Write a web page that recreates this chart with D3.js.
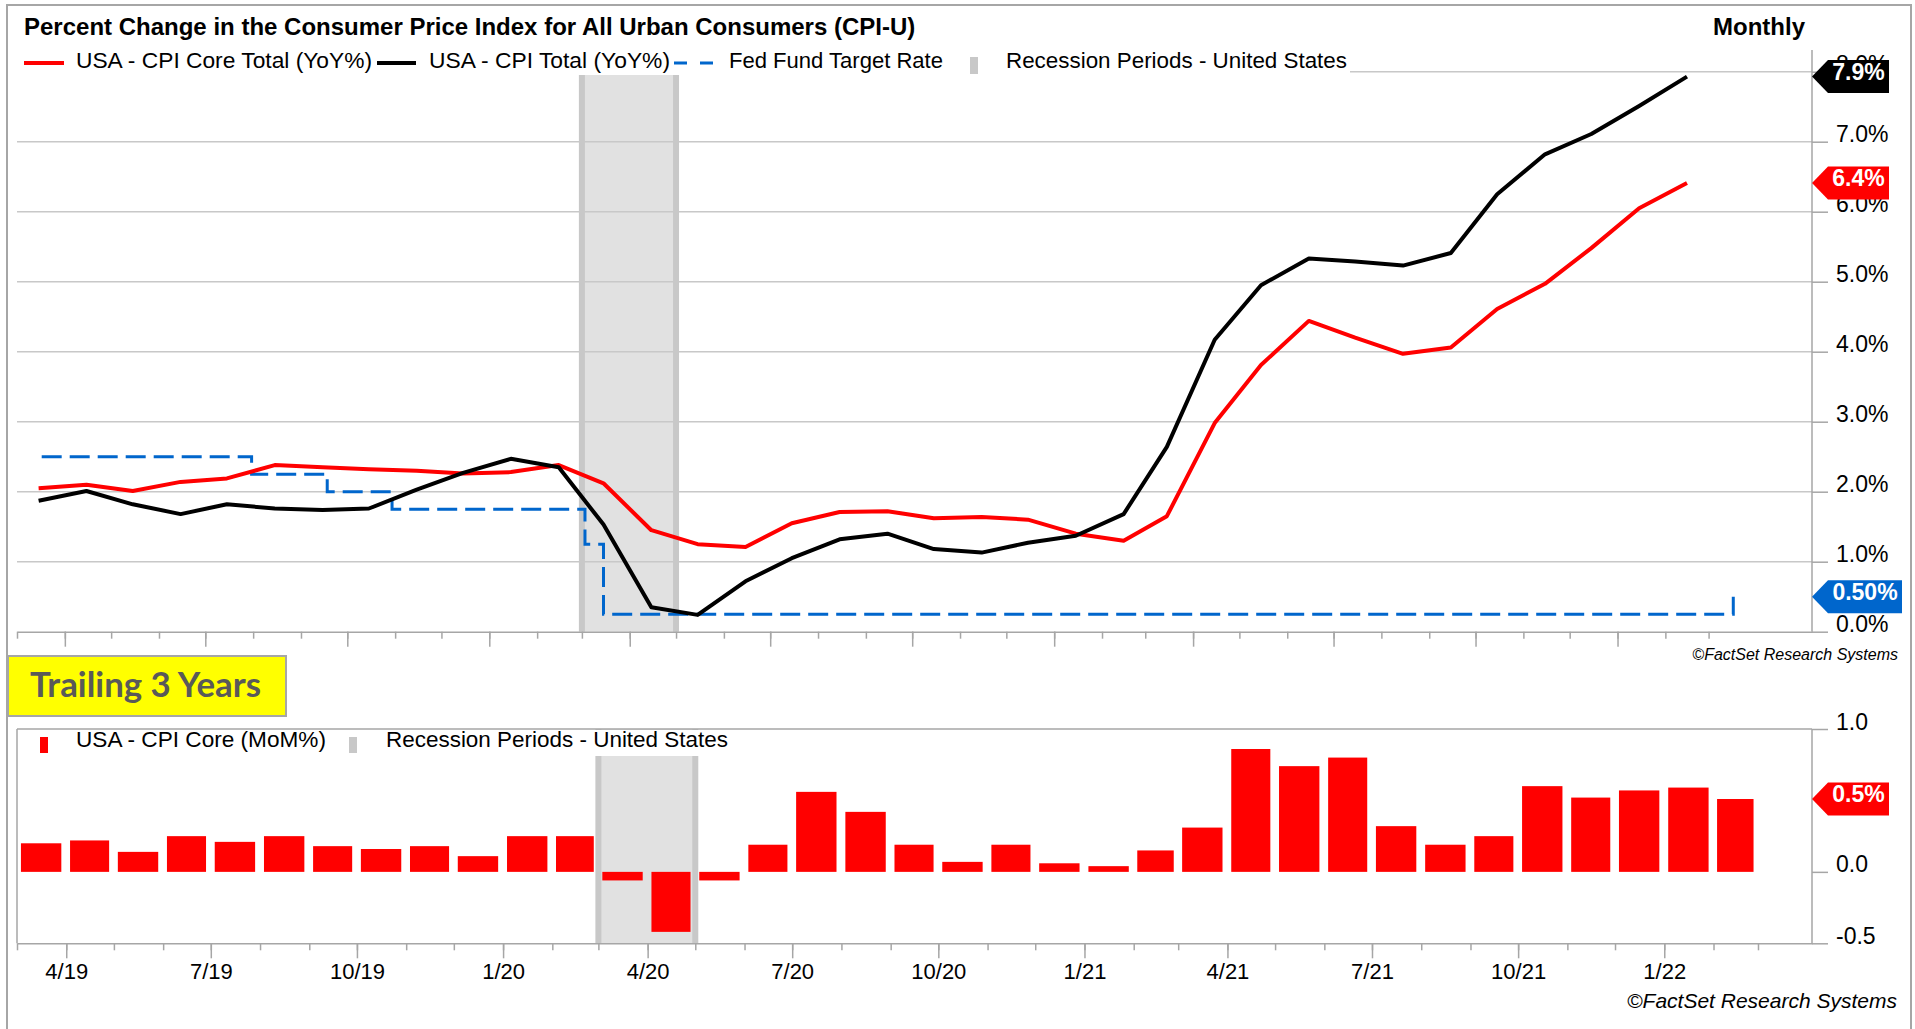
<!DOCTYPE html>
<html>
<head>
<meta charset="utf-8">
<script src="https://cdn.jsdelivr.net/npm/d3@7"></script>
<style>
  body { margin: 0; background: #fff; }
  svg { display: block; }
</style>
</head>
<body>
<div id="wrapper"></div>
<script>
// 1. Data

const months = [
  "2019-03","2019-04","2019-05","2019-06","2019-07","2019-08","2019-09","2019-10","2019-11","2019-12",
  "2020-01","2020-02","2020-03","2020-04","2020-05","2020-06","2020-07","2020-08","2020-09","2020-10","2020-11","2020-12",
  "2021-01","2021-02","2021-03","2021-04","2021-05","2021-06","2021-07","2021-08","2021-09","2021-10","2021-11","2021-12",
  "2022-01","2022-02"
];
const cpiCoreYoY = [
  2.05, 2.10, 2.01, 2.14, 2.19, 2.38, 2.35, 2.32, 2.30, 2.26,
  2.28, 2.38, 2.12, 1.45, 1.25, 1.21, 1.55, 1.71, 1.72, 1.62, 1.64, 1.60,
  1.40, 1.30, 1.65, 2.98, 3.81, 4.44, 4.20, 3.97, 4.06, 4.61, 4.97, 5.48,
  6.05, 6.41
];
const cpiTotalYoY = [
  1.87, 2.01, 1.82, 1.68, 1.82, 1.76, 1.74, 1.76, 2.03, 2.27,
  2.47, 2.35, 1.53, 0.35, 0.24, 0.72, 1.05, 1.32, 1.40, 1.18, 1.13, 1.27,
  1.37, 1.68, 2.64, 4.17, 4.95, 5.33, 5.29, 5.23, 5.41, 6.25, 6.82, 7.11,
  7.51, 7.93
];
const coreMoM = [
  0.20, 0.22, 0.14, 0.25, 0.21, 0.25, 0.18, 0.16, 0.18, 0.11,
  0.25, 0.25, -0.06, -0.42, -0.06, 0.19, 0.56, 0.42, 0.19, 0.07, 0.19, 0.06,
  0.04, 0.15, 0.31, 0.86, 0.74, 0.80, 0.32, 0.19, 0.25, 0.60, 0.52, 0.57,
  0.59, 0.51
];
const fedDates = ["2019-03-17","2019-07-31","2019-09-18","2019-10-30","2020-03-03","2020-03-15","2022-03-17"];
const fedRates = [2.50, 2.25, 2.00, 1.75, 1.25, 0.25, 0.50];
const recession = ["2020-03-01", "2020-05-01"];

const yTicksTop = [0, 1, 2, 3, 4, 5, 6, 7, 8];
const yTicksBottom = [-0.5, 0, 1.0];
const quarterDates = ["2019-04-01","2019-07-01","2019-10-01","2020-01-01","2020-04-01","2020-07-01",
  "2020-10-01","2021-01-01","2021-04-01","2021-07-01","2021-10-01","2022-01-01"];
const quarterLabels = ["4/19","7/19","10/19","1/20","4/20","7/20","10/20","1/21","4/21","7/21","10/21","1/22"];

const parseDay = d3.timeParse("%Y-%m-%d");
const monthStart = months.map(m => parseDay(m + "-01"));
const monthMid = monthStart.map(d => d3.timeDay.offset(d, 14));
const coreData = monthMid.map((d, i) => ({ date: d, value: cpiCoreYoY[i] }));
const totalData = monthMid.map((d, i) => ({ date: d, value: cpiTotalYoY[i] }));
const fedData = fedDates.map((d, i) => ({ date: parseDay(d), value: fedRates[i] }));
const momData = monthStart.map((d, i) => ({ start: d, end: d3.timeMonth.offset(d, 1), value: coreMoM[i] }));
const monthTicks = d3.timeMonth.range(parseDay("2019-03-01"), parseDay("2022-03-02"));
const quarterTicks = quarterDates.map(parseDay);

const gridColor = "#c8c8c8";
const axisColor = "#a6a6a6";
const recFill = "#e1e1e1";
const recEdge = "#c8c8c8";

// 2. Dimensions

const dims = {
  width: 1915,
  height: 1029,
  plotLeft: 17,
  axisX: 1812,
  top: { top: 50, y8: 71.7, y0: 631.7 },
  bottom: { top: 729, bottom: 943.3 },
};

// 3. Canvas

const svg = d3.select("#wrapper")
  .append("svg")
    .attr("width", dims.width)
    .attr("height", dims.height)
    .style("font-family", "'Liberation Sans', Arial, sans-serif");

svg.append("rect")
    .attr("x", 7).attr("y", 5)
    .attr("width", 1904).attr("height", 1040)
    .attr("fill", "none")
    .attr("stroke", axisColor)
    .attr("stroke-width", 2);

// 4. Scales

const xTop = d3.scaleTime()
  .domain([parseDay("2019-03-01"), parseDay("2022-05-07")])
  .range([dims.plotLeft, dims.axisX]);
const yTop = d3.scaleLinear()
  .domain([0, 8])
  .range([dims.top.y0, dims.top.y8]);

const xBot = d3.scaleTime()
  .domain([parseDay("2019-03-01"), parseDay("2022-04-04")])
  .range([dims.plotLeft, dims.axisX]);
const yBot = d3.scaleLinear()
  .domain([-0.5, 1.0])
  .range([dims.bottom.bottom, dims.bottom.top]);

// helpers
function drawRecession(g, x, y0, y1) {
  const r0 = x(parseDay(recession[0])), r1 = x(parseDay(recession[1]));
  g.append("rect")
      .attr("x", r0).attr("y", y0)
      .attr("width", r1 - r0).attr("height", y1 - y0)
      .attr("fill", recFill);
  g.selectAll(null)
    .data([r0, r1])
    .join("rect")
      .attr("x", d => d - 3).attr("y", y0)
      .attr("width", 6).attr("height", y1 - y0)
      .attr("fill", recEdge);
}

function styleAxis(g) {
  g.select(".domain").attr("stroke", axisColor).attr("stroke-width", 1.5);
  g.selectAll(".tick line").attr("stroke", axisColor).attr("stroke-width", 1.5);
}

function drawMonthAxis(g, x, y, withLabels) {
  const minor = g.append("g")
      .attr("transform", `translate(0,${y})`)
      .call(d3.axisBottom(x).tickValues(monthTicks).tickSize(7).tickSizeOuter(0).tickFormat(""));
  styleAxis(minor);
  const major = g.append("g")
      .attr("transform", `translate(0,${y})`)
      .call(d3.axisBottom(x).tickValues(quarterTicks).tickSize(15).tickSizeOuter(0)
        .tickFormat((d, i) => withLabels ? quarterLabels[i] : ""));
  styleAxis(major);
  major.select(".domain").remove();
  major.selectAll(".tick text")
      .attr("y", 36).attr("dy", 0)
      .attr("fill", "#000")
      .style("font-family", "'Liberation Sans', Arial, sans-serif")
      .style("font-size", "22px");
}

function drawRightAxis(g, y, ticks, fmt, yStart, yEnd, fontSize) {
  g.append("line")
      .attr("x1", dims.axisX).attr("x2", dims.axisX)
      .attr("y1", yStart).attr("y2", yEnd)
      .attr("stroke", axisColor).attr("stroke-width", 1.5);
  const ax = g.append("g")
      .attr("transform", `translate(${dims.axisX},0)`)
      .call(d3.axisRight(y).tickValues(ticks).tickSize(16).tickFormat(fmt));
  ax.select(".domain").remove();
  ax.selectAll(".tick line").attr("stroke", axisColor).attr("stroke-width", 1.5);
  ax.selectAll(".tick text")
      .attr("x", 24).attr("dy", 0)
      .attr("fill", "#000")
      .style("font-family", "'Liberation Sans', Arial, sans-serif")
      .style("font-size", fontSize + "px");
}

function drawBadge(g, yPos, label, color, width) {
  const x0 = dims.axisX, h = 33;
  g.append("path")
      .attr("d", `M${x0},${yPos} L${x0 + 16},${yPos - h / 2} L${x0 + 16 + width},${yPos - h / 2} L${x0 + 16 + width},${yPos + h / 2} L${x0 + 16},${yPos + h / 2} Z`)
      .attr("fill", color);
  g.append("text")
      .attr("x", x0 + 16 + width / 2)
      .attr("y", yPos + 3)
      .attr("text-anchor", "middle")
      .attr("fill", "#fff")
      .style("font-weight", "bold")
      .style("font-size", "23px")
      .text(label);
}

function legendText(g, x, y, width, label) {
  g.append("text")
      .attr("x", x).attr("y", y)
      .attr("textLength", width)
      .attr("lengthAdjust", "spacingAndGlyphs")
      .text(label);
}

// 5. Top chart

const topG = svg.append("g");

drawRecession(topG, xTop, dims.top.top, dims.top.y0);

topG.append("g")
  .selectAll("line")
  .data(yTicksTop.filter(d => d > 0))
  .join("line")
    .attr("x1", dims.plotLeft).attr("x2", dims.axisX)
    .attr("y1", d => yTop(d)).attr("y2", d => yTop(d))
    .attr("stroke", gridColor)
    .attr("stroke-width", 1.5);

drawMonthAxis(topG, xTop, dims.top.y0, false);
drawRightAxis(topG, yTop, yTicksTop, d => d.toFixed(1) + "%", dims.top.top, dims.top.y0, 23);

// legend background and items
topG.append("rect")
    .attr("x", 16).attr("y", 40)
    .attr("width", 1334).attr("height", 35)
    .attr("fill", "#fff");

const legendTop = topG.append("g").style("font-size", "22px");
legendTop.append("line").attr("x1", 24).attr("x2", 64).attr("y1", 63).attr("y2", 63)
    .attr("stroke", "#ff0000").attr("stroke-width", 4);
legendText(legendTop, 76, 68, 296, "USA - CPI Core Total (YoY%)");
legendTop.append("line").attr("x1", 377).attr("x2", 416).attr("y1", 63).attr("y2", 63)
    .attr("stroke", "#000").attr("stroke-width", 4);
legendText(legendTop, 429, 68, 241, "USA - CPI Total (YoY%)");
legendTop.append("line").attr("x1", 674).attr("x2", 713).attr("y1", 63).attr("y2", 63)
    .attr("stroke", "#0066cc").attr("stroke-width", 3).attr("stroke-dasharray", "13,13");
legendText(legendTop, 729, 68, 214, "Fed Fund Target Rate");
legendTop.append("rect").attr("x", 970).attr("y", 57).attr("width", 8).attr("height", 17)
    .attr("fill", "#c8c8c8");
legendText(legendTop, 1006, 68, 341, "Recession Periods - United States");

// lines
const lineTop = d3.line()
  .x(d => xTop(d.date))
  .y(d => yTop(d.value));

topG.append("path")
    .datum(fedData)
    .attr("d", lineTop.curve(d3.curveStepAfter))
    .attr("fill", "none")
    .attr("stroke", "#0066cc")
    .attr("stroke-width", 3)
    .attr("stroke-dasharray", "20,8");

lineTop.curve(d3.curveLinear);

topG.append("path")
    .datum(coreData)
    .attr("d", lineTop)
    .attr("fill", "none")
    .attr("stroke", "#ff0000")
    .attr("stroke-width", 4)
    .attr("stroke-linejoin", "round");

topG.append("path")
    .datum(totalData)
    .attr("d", lineTop)
    .attr("fill", "none")
    .attr("stroke", "#000")
    .attr("stroke-width", 4)
    .attr("stroke-linejoin", "round");

const lastTotal = cpiTotalYoY[cpiTotalYoY.length - 1];
const lastCore = cpiCoreYoY[cpiCoreYoY.length - 1];
const lastFed = fedRates[fedRates.length - 1];
drawBadge(topG, yTop(lastTotal), lastTotal.toFixed(1) + "%", "#000", 61);
drawBadge(topG, yTop(lastCore), lastCore.toFixed(1) + "%", "#ff0000", 61);
drawBadge(topG, yTop(lastFed), lastFed.toFixed(2) + "%", "#0066cc", 74);

// titles
svg.append("text")
    .attr("x", 24).attr("y", 35)
    .style("font-weight", "bold")
    .style("font-size", "24px")
    .text("Percent Change in the Consumer Price Index for All Urban Consumers (CPI-U)");
svg.append("text")
    .attr("x", 1805).attr("y", 35)
    .attr("text-anchor", "end")
    .style("font-weight", "bold")
    .style("font-size", "24px")
    .text("Monthly");
svg.append("text")
    .attr("x", 1898).attr("y", 660)
    .attr("text-anchor", "end")
    .style("font-style", "italic")
    .style("font-size", "16px")
    .text("©FactSet Research Systems");

// 6. Trailing box

svg.append("rect")
    .attr("x", 8).attr("y", 656)
    .attr("width", 278).attr("height", 60)
    .attr("fill", "#ffff00")
    .attr("stroke", axisColor)
    .attr("stroke-width", 2);
svg.append("text")
    .attr("x", 30).attr("y", 697)
    .attr("fill", "#595959")
    .attr("textLength", 231)
    .attr("lengthAdjust", "spacingAndGlyphs")
    .style("font-family", "Lato, 'Open Sans', sans-serif")
    .style("font-weight", "bold")
    .style("font-size", "34px")
    .text("Trailing 3 Years");

// 7. Bottom chart

const botG = svg.append("g");

drawRecession(botG, xBot, dims.bottom.top, dims.bottom.bottom);

// box
botG.append("line")
    .attr("x1", dims.plotLeft).attr("x2", dims.axisX)
    .attr("y1", dims.bottom.top).attr("y2", dims.bottom.top)
    .attr("stroke", axisColor).attr("stroke-width", 1.5);
botG.append("line")
    .attr("x1", dims.plotLeft).attr("x2", dims.plotLeft)
    .attr("y1", dims.bottom.top).attr("y2", dims.bottom.bottom)
    .attr("stroke", axisColor).attr("stroke-width", 1.5);

botG.append("rect")
    .attr("x", 18).attr("y", 730)
    .attr("width", 730).attr("height", 26)
    .attr("fill", "#fff");

const legendBot = botG.append("g").style("font-size", "22px");
legendBot.append("rect").attr("x", 40).attr("y", 737).attr("width", 8).attr("height", 16).attr("fill", "#ff0000");
legendText(legendBot, 76, 747, 250, "USA - CPI Core (MoM%)");
legendBot.append("rect").attr("x", 349).attr("y", 737).attr("width", 8).attr("height", 16).attr("fill", "#c8c8c8");
legendText(legendBot, 386, 747, 342, "Recession Periods - United States");

botG.append("g")
  .selectAll("rect")
  .data(momData)
  .join("rect")
    .attr("x", d => {
      const w = xBot(d.end) - xBot(d.start);
      return xBot(d.start) + w * 0.08;
    })
    .attr("width", d => (xBot(d.end) - xBot(d.start)) * 0.82)
    .attr("y", d => yBot(Math.max(0, d.value)))
    .attr("height", d => Math.abs(yBot(d.value) - yBot(0)))
    .attr("fill", "#ff0000");

drawMonthAxis(botG, xBot, dims.bottom.bottom, true);
drawRightAxis(botG, yBot, yTicksBottom, d => d.toFixed(1), dims.bottom.top, dims.bottom.bottom, 23);

const lastMoM = coreMoM[coreMoM.length - 1];
drawBadge(botG, yBot(lastMoM), lastMoM.toFixed(1) + "%", "#ff0000", 61);

svg.append("text")
    .attr("x", 1897).attr("y", 1008)
    .attr("text-anchor", "end")
    .style("font-style", "italic")
    .style("font-size", "21px")
    .text("©FactSet Research Systems");
</script>
</body>
</html>
